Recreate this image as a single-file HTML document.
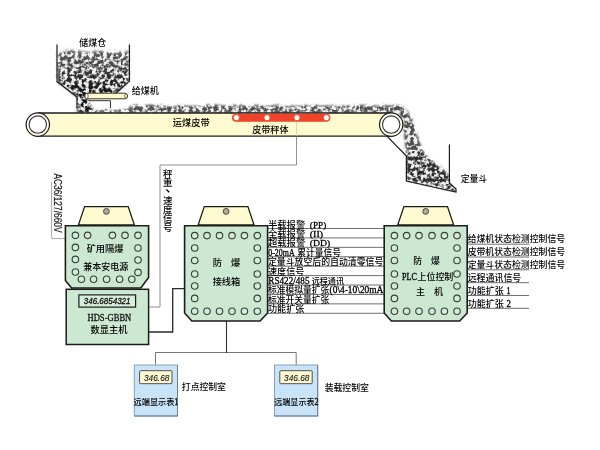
<!DOCTYPE html>
<html lang="zh">
<head>
<meta charset="utf-8">
<title>皮带秤定量装载系统示意图</title>
<style>
html,body{margin:0;padding:0;background:#fff}
body{width:600px;height:450px;overflow:hidden;position:relative;font-family:"Liberation Sans",sans-serif}
svg{position:absolute;left:0;top:0;display:block}
.t{position:absolute;color:transparent;white-space:nowrap;font-family:"Liberation Serif",serif;user-select:none;overflow:hidden;max-width:140px;max-height:70px}
</style>
</head>
<body>
<svg width="600" height="450" viewBox="0 0 600 450" aria-hidden="true">
<defs>
<filter id="coal" x="0" y="0" width="100%" height="100%" color-interpolation-filters="sRGB"><feTurbulence type="fractalNoise" baseFrequency="0.28" numOctaves="2" seed="11" result="n"/><feColorMatrix in="n" type="matrix" values="4.4 1.5 0 0 -2.52  4.4 1.5 0 0 -2.52  4.4 1.5 0 0 -2.52  0 0 0 0 1"/><feComponentTransfer><feFuncR type="linear" slope="0.86" intercept="0.07"/><feFuncG type="linear" slope="0.86" intercept="0.07"/><feFuncB type="linear" slope="0.86" intercept="0.07"/></feComponentTransfer></filter>
<linearGradient id="gh" gradientUnits="userSpaceOnUse" x1="0" y1="50" x2="0" y2="92"><stop offset="0" stop-color="#a8a8a8"/><stop offset="1" stop-color="#fff"/></linearGradient>
<filter id="b2" x="-10%" y="-10%" width="120%" height="120%"><feGaussianBlur stdDeviation="1.8"/></filter>
<filter id="b1" x="-10%" y="-10%" width="120%" height="120%"><feGaussianBlur stdDeviation="0.9"/></filter>
<mask id="cHop" maskUnits="userSpaceOnUse" x="40" y="30" width="110" height="100"><polygon points="57.6,50.94 60.12,51.98 62.43,51.61 65.55,50.09 69.07,50.02 72.38,50.12 74.74,51.26 79.15,50.3 81.88,51.91 86.63,51.75 89.84,53.02 92.07,52.65 94.98,50.36 97.41,50.89 101.8,50.48 105.53,51.94 108.67,51.65 110.95,50.09 113.62,52.08 116.92,50.91 120.66,51.35 123.6,52.44 127.66,50.68 129,51.58 129,81 116,93 112,94 88.5,94 88.5,104 92,108 96,113 77.4,113 77.4,97 57.6,81.5" fill="url(#gh)" filter="url(#b2)"/></mask>
<mask id="cBelt" maskUnits="userSpaceOnUse" x="80" y="90" width="400" height="120"><polygon points="92,113 96,110.5 100,110.5 103.55,109.09 107.7,108.68 110.51,110.22 112.67,109.57 114.57,110 118.2,109.78 122.1,109.15 125.57,109.83 128,109.49 130,106.08 133.52,105.35 136.47,104.52 139.49,105.69 143.11,106.04 145.26,105.17 148.21,104.45 150.73,104.74 152.54,104.52 155.7,104.66 157.77,105.18 161.14,104.56 163.64,105.5 167.04,106.04 170.39,104.96 172.82,105.12 176.22,106.32 178.09,104.75 180.13,104.87 182.7,105.58 184.81,104.41 187.24,105.14 189.98,106.31 192.97,105.43 195.82,105.75 197.49,106.2 200.67,106.15 203.89,105.18 206.28,104.61 209.16,104.52 210.86,104.82 212.76,105.08 214.43,104.4 216.3,104.6 218.62,104.45 222,105.63 223.87,104.9 226.15,105.13 227.96,106.1 231.59,105.33 234.16,104.57 235.93,105.09 238.04,106.06 239.94,104.45 243.47,105.46 245.34,105.49 246.95,105.46 250.55,106.13 253.56,104.92 255.88,104.73 259.05,105.47 262.23,105.06 264.25,106.02 267.86,106.11 271.1,106.04 274.19,104.85 276.83,105.11 278.45,104.46 280.59,104.92 283.59,106.31 286.08,106.27 289.7,106.31 292.02,104.84 294.05,104.79 296.03,105.65 299.47,106.08 302.02,105.71 305.25,104.57 308.18,106.22 311.37,105.9 313.92,104.76 317.12,105.07 320.35,106.34 322.73,105.2 326.26,105.85 328.18,104.65 330.05,106.21 333.29,104.69 336.57,106.36 339.49,105.1 342.2,104.66 343.79,106.34 346.7,105.45 350.2,105.27 353.57,106.05 355.57,104.9 357.74,104.88 360.52,104.92 362.95,104.66 366.4,105.11 368.92,105.57 372.36,105.24 375.83,105.4 378.49,105.45 380.09,105.28 382.03,104.41 385.26,104.74 387.8,105.85 390.52,105.05 393.16,105.51 396,104.61 401,105.5 405,108 409,113 413,121 416,130 419,140 423,151 428,157.5 436,163 443,169 449,175.5 449,183 455.5,189 455.5,191.5 406.9,180.6 406.9,156 405.6,148 404.4,138 403.6,129 403.2,124 402,118 399,114.5 394,113" fill="#fff" filter="url(#b1)"/></mask>
<mask id="cPile" maskUnits="userSpaceOnUse" x="380" y="120" width="100" height="90"><polygon points="407.4,153 414,150 421,152 427,158 436,164.5 443,170.5 448.5,176.5 448.5,183.2 455,189 455,191 407.4,180.2" fill="#fff" filter="url(#b1)"/></mask>
</defs>
<rect width="600" height="450" fill="#fff"/>
<g mask="url(#cHop)"><rect x="50" y="40" width="90" height="80" filter="url(#coal)"/></g>
<g mask="url(#cBelt)" opacity="0.74"><rect x="85" y="98" width="380" height="100" filter="url(#coal)"/></g>
<g mask="url(#cPile)" opacity="0.55"><rect x="85" y="98" width="380" height="100" filter="url(#coal)"/></g>
<rect x="37.8" y="113" width="353.4" height="23.2" fill="#fffbd0"/>
<path d="M37.8 113H391.2M37.8 136.2H391.2" stroke="#1c1c1c" stroke-width="1.3" fill="none"/>
<circle cx="37.8" cy="124.6" r="11.7" fill="#fffef0" stroke="#1c1c1c" stroke-width="1.2"/>
<circle cx="37.8" cy="124.6" r="8.7" fill="#fff" stroke="#333" stroke-width="1.1"/>
<circle cx="391.2" cy="124.6" r="11.7" fill="#fffef0" stroke="#1c1c1c" stroke-width="1.2"/>
<circle cx="391.2" cy="124.6" r="8.7" fill="#fff" stroke="#333" stroke-width="1.1"/>
<rect x="232" y="113.7" width="98.4" height="8.1" rx="4" fill="#f0432a"/>
<circle cx="236.4" cy="117.7" r="3.1" fill="#fff" stroke="#ee4a2c" stroke-width="1"/>
<circle cx="267" cy="117.7" r="3.1" fill="#fff" stroke="#ee4a2c" stroke-width="1"/>
<circle cx="297" cy="117.7" r="3.1" fill="#fff" stroke="#ee4a2c" stroke-width="1"/>
<circle cx="326.4" cy="117.7" r="3.1" fill="#fff" stroke="#ee4a2c" stroke-width="1"/>
<path d="M57 44.6V81.6L77 97V108M129.4 44.6V81L116 93" stroke="#1c1c1c" stroke-width="1.2" fill="none"/>
<path d="M88.5 100.7H110.5V108" stroke="#333" stroke-width="1" fill="none"/>
<rect x="84.6" y="93.2" width="43" height="5.6" rx="2.8" fill="#fffbd0" stroke="#3a3420" stroke-width="1"/>
<ellipse cx="86.6" cy="96" rx="1.6" ry="2.6" fill="#fffef0" stroke="#3a3420" stroke-width="0.7"/>
<path d="M125.4 93.6Q124 96 125.4 98.4" stroke="#3a3420" stroke-width="0.7" fill="none"/>
<path d="M386.5 135.6L406.4 156V181L456 192V189L449.4 183V144.4" stroke="#1c1c1c" stroke-width="1.2" fill="none"/>
<path d="M296.5 122V136" stroke="#d9d2a4" stroke-width="0.9" fill="none"/>
<path d="M296.5 136.8V165H160V307H149" stroke="#858585" stroke-width="0.9" fill="none"/>
<path d="M51.6 182V238.6H65" stroke="#a8a8a8" stroke-width="1" fill="none"/>
<path d="M149 332H172.7V288.6H184.6" stroke="#2a2a2a" stroke-width="1.3" fill="none"/>
<path d="M155.5 365V352.5H296.2V365" stroke="#777" stroke-width="1" fill="none"/>
<path d="M226.5 321V353" stroke="#333" stroke-width="1.1" fill="none"/>
<path d="M267.5 228.5H384.5M267.5 237.92H384.5M267.5 247.34H384.5M267.5 256.76H384.5M267.5 266.18H384.5M267.5 275.6H384.5M267.5 285.02H384.5M267.5 294.44H384.5M267.5 303.86H384.5M267.5 313.28H384.5" stroke="#6e6e6e" stroke-width="1" fill="none"/>
<path d="M467.5 244.2H529M467.5 257.02H529M467.5 269.84H529M467.5 282.66H529M467.5 295.48H529M467.5 308.3H529" stroke="#6e6e6e" stroke-width="1" fill="none"/>
<polygon points="84.6,206.6 128.2,206.6 134.4,225 78.4,225" fill="#fffbd0" stroke="#1c1c1c" stroke-width="1.3" stroke-linejoin="miter"/>
<circle cx="106.4" cy="211.4" r="2.9" fill="#b0ac98" stroke="#4c4c44" stroke-width="1"/>
<polygon points="65.4,225.8 148.6,225.8 148.6,277.5 140.8,288 71.6,288 65.4,280.5" fill="#cde8d2" stroke="#1c1c1c" stroke-width="1.6"/>
<g fill="#d3ecd8" stroke="#36413a" stroke-width="1.15"><circle cx="75.4" cy="235.3" r="3.25"/><circle cx="87.6" cy="235.3" r="3.25"/><circle cx="112.4" cy="235.3" r="3.25"/><circle cx="125" cy="235.3" r="3.25"/><circle cx="138" cy="235.3" r="3.25"/><circle cx="75.4" cy="247.4" r="3.25"/><circle cx="75.4" cy="259.4" r="3.25"/><circle cx="75.4" cy="272" r="3.25"/><circle cx="138" cy="248" r="3.25"/><circle cx="138" cy="260" r="3.25"/><circle cx="138" cy="272.4" r="3.25"/><circle cx="81.4" cy="279.2" r="3.25"/><circle cx="93.6" cy="279.2" r="3.25"/><circle cx="106.6" cy="279.2" r="3.25"/><circle cx="119.6" cy="279.2" r="3.25"/><circle cx="131.8" cy="279.2" r="3.25"/></g>
<rect x="66.2" y="289.3" width="82.4" height="55.2" fill="#cde8d2" stroke="#1c1c1c" stroke-width="1.5"/>
<rect x="78.9" y="294.9" width="56.7" height="12.2" fill="#d6eedb" stroke="#1c1c1c" stroke-width="1.2"/>
<polygon points="204.3,206.6 247.9,206.6 254.1,225 198.1,225" fill="#fffbd0" stroke="#1c1c1c" stroke-width="1.3" stroke-linejoin="miter"/>
<circle cx="226.1" cy="211.4" r="2.9" fill="#b0ac98" stroke="#4c4c44" stroke-width="1"/>
<polygon points="184.6,225.8 267.6,225.8 267.6,313 260.1,321 191.8,321 184.6,313" fill="#cde8d2" stroke="#1c1c1c" stroke-width="1.6"/>
<g fill="#d3ecd8" stroke="#36413a" stroke-width="1.15"><circle cx="194.7" cy="235.6" r="3.25"/><circle cx="207" cy="235.6" r="3.25"/><circle cx="219.5" cy="235.6" r="3.25"/><circle cx="232" cy="235.6" r="3.25"/><circle cx="244.4" cy="235.6" r="3.25"/><circle cx="257.3" cy="235.6" r="3.25"/><circle cx="194.7" cy="311.2" r="3.25"/><circle cx="207" cy="311.2" r="3.25"/><circle cx="219.5" cy="311.2" r="3.25"/><circle cx="232" cy="311.2" r="3.25"/><circle cx="244.4" cy="311.2" r="3.25"/><circle cx="257.3" cy="311.2" r="3.25"/><circle cx="194.7" cy="248" r="3.25"/><circle cx="257.3" cy="248" r="3.25"/><circle cx="194.7" cy="260.5" r="3.25"/><circle cx="257.3" cy="260.5" r="3.25"/><circle cx="194.7" cy="274" r="3.25"/><circle cx="257.3" cy="274" r="3.25"/><circle cx="194.7" cy="286" r="3.25"/><circle cx="257.3" cy="286" r="3.25"/><circle cx="194.7" cy="298.4" r="3.25"/><circle cx="257.3" cy="298.4" r="3.25"/></g>
<polygon points="403.9,206.6 447.5,206.6 453.7,225 397.7,225" fill="#fffbd0" stroke="#1c1c1c" stroke-width="1.3" stroke-linejoin="miter"/>
<circle cx="425.7" cy="211.4" r="2.9" fill="#b0ac98" stroke="#4c4c44" stroke-width="1"/>
<polygon points="384.2,225.8 467.2,225.8 467.2,313 459.7,321 391.4,321 384.2,313" fill="#cde8d2" stroke="#1c1c1c" stroke-width="1.6"/>
<g fill="#d3ecd8" stroke="#36413a" stroke-width="1.15"><circle cx="394.4" cy="235.6" r="3.25"/><circle cx="406.6" cy="235.6" r="3.25"/><circle cx="419" cy="235.6" r="3.25"/><circle cx="432" cy="235.6" r="3.25"/><circle cx="444.4" cy="235.6" r="3.25"/><circle cx="457" cy="235.6" r="3.25"/><circle cx="394.4" cy="311.2" r="3.25"/><circle cx="406.6" cy="311.2" r="3.25"/><circle cx="419" cy="311.2" r="3.25"/><circle cx="432" cy="311.2" r="3.25"/><circle cx="444.4" cy="311.2" r="3.25"/><circle cx="457" cy="311.2" r="3.25"/><circle cx="394.4" cy="248" r="3.25"/><circle cx="457" cy="248" r="3.25"/><circle cx="394.4" cy="260.5" r="3.25"/><circle cx="457" cy="260.5" r="3.25"/><circle cx="394.4" cy="274" r="3.25"/><circle cx="457" cy="274" r="3.25"/><circle cx="394.4" cy="286" r="3.25"/><circle cx="457" cy="286" r="3.25"/><circle cx="394.4" cy="298.4" r="3.25"/><circle cx="457" cy="298.4" r="3.25"/></g>
<rect x="134.3" y="365" width="43.2" height="51" fill="#c9e4f8" stroke="#8a9fb4" stroke-width="1"/>
<path d="M177.5 365.5V416H134.3" stroke="#6f7f8f" stroke-width="1" fill="none"/>
<rect x="139.6" y="370.7" width="32.4" height="13" rx="0.8" fill="#fffad2" stroke="#4f4f4f" stroke-width="1"/>
<rect x="274.5" y="365" width="43.2" height="51" fill="#c9e4f8" stroke="#8a9fb4" stroke-width="1"/>
<path d="M317.7 365.5V416H274.5" stroke="#6f7f8f" stroke-width="1" fill="none"/>
<rect x="279.8" y="370.7" width="32.4" height="13" rx="0.8" fill="#fffad2" stroke="#4f4f4f" stroke-width="1"/>
<g id="labels" opacity="0.999" font-family="'Liberation Sans', 'Noto Sans CJK SC', sans-serif" font-weight="500" fill="#000">
<text x="79.34" y="45.84" font-size="8.94">储煤仓</text>
<text x="131.64" y="94.45" font-size="9.01">给煤机</text>
<text x="172.83" y="125.55" font-size="9.21">运煤皮带</text>
<text x="252.14" y="133.45" font-size="9.11">皮带秤体</text>
<text x="460.64" y="181.66" font-size="8.9">定量斗</text>
<text x="86.63" y="251.66" font-size="9.18">矿用隔爆</text>
<text x="83.24" y="269.66" font-size="9.02">兼本安电源</text>
<text x="90.53" y="333.11" font-size="9.26">数显主机</text>
<text x="212.63 231.12" y="265.66" font-size="9.25">防爆</text>
<text x="212.63" y="284.66" font-size="9.25">接线箱</text>
<text x="413.14 430.95" y="264.15" font-size="8.9">防爆</text>
<text x="402" y="279.9" font-family="Liberation Serif, serif" font-weight="normal" font-size="9.6" textLength="14.8" lengthAdjust="spacingAndGlyphs" fill="#000" stroke="#000" stroke-width="0.3">PLC</text>
<text x="417.44" y="279.97" font-size="8.98">上位控制</text>
<text x="415.94 434.09" y="295.35" font-size="9.08">主机</text>
<text x="162.92" y="176.75" font-size="9.46">秤</text>
<text x="162.92" y="185.75" font-size="9.46">重</text>
<text x="165.3" y="190.64" font-size="12.87">、</text>
<text x="162.92" y="204.15" font-size="9.46">速</text>
<text x="162.92" y="212.95" font-size="9.46">度</text>
<text x="162.92" y="221.75" font-size="9.46">信</text>
<text x="162.92" y="230.75" font-size="9.46">号</text>
<text transform="translate(53.6 173.4) rotate(90)" font-family="Liberation Sans, sans-serif" font-weight="normal" font-size="10.4" textLength="59.2" lengthAdjust="spacingAndGlyphs" fill="#111" stroke="#111" stroke-width="0.2">AC36/127/660V</text>
<text x="83.8" y="304.2" font-family="Liberation Sans, sans-serif" font-weight="normal" font-size="8.4" textLength="46.7" lengthAdjust="spacingAndGlyphs" fill="#111" font-style="italic" stroke="#111" stroke-width="0.3">346.6854321</text>
<text x="87.5" y="320.6" font-family="Liberation Serif, serif" font-weight="normal" font-size="10" textLength="43.8" lengthAdjust="spacingAndGlyphs" fill="#111" stroke="#111" stroke-width="0.3">HDS-GBBN</text>
<text x="144" y="380.6" font-family="Liberation Sans, sans-serif" font-weight="normal" font-size="9.2" textLength="25.4" lengthAdjust="spacingAndGlyphs" fill="#111" font-style="italic" stroke="#111" stroke-width="0.1">346.68</text>
<text x="284.1" y="380.6" font-family="Liberation Sans, sans-serif" font-weight="normal" font-size="9.2" textLength="25.4" lengthAdjust="spacingAndGlyphs" fill="#111" font-style="italic" stroke="#111" stroke-width="0.1">346.68</text>
<text x="133.57" y="405.35" font-size="8.19">远端显示表</text>
<text x="174.6" y="405.3" font-family="Liberation Serif, serif" font-weight="normal" font-size="9.4" textLength="3.6" lengthAdjust="spacingAndGlyphs" fill="#000" stroke="#000" stroke-width="0.3">1</text>
<text x="274.18" y="405.35" font-size="8.11">远端显示表</text>
<text x="314.6" y="405.3" font-family="Liberation Serif, serif" font-weight="normal" font-size="9.4" textLength="4" lengthAdjust="spacingAndGlyphs" fill="#000" stroke="#000" stroke-width="0.3">2</text>
<text x="181.85" y="389.75" font-size="8.8">打点控制室</text>
<text x="324.65" y="390.55" font-size="8.86">装载控制室</text>
<text x="267.93" y="227.55" font-size="9.36">半载报警</text>
<text x="309.8" y="227.5" font-family="Liberation Serif, serif" font-weight="normal" font-size="9" textLength="16.5" lengthAdjust="spacingAndGlyphs" fill="#000" stroke="#000" stroke-width="0.3">(PP)</text>
<text x="267.93" y="236.97" font-size="9.36">全载报警</text>
<text x="309.8" y="236.92" font-family="Liberation Serif, serif" font-weight="normal" font-size="9" textLength="13.2" lengthAdjust="spacingAndGlyphs" fill="#000" stroke="#000" stroke-width="0.3">(II)</text>
<text x="267.93" y="246.39" font-size="9.36">超载报警</text>
<text x="309.8" y="246.34" font-family="Liberation Serif, serif" font-weight="normal" font-size="9" textLength="20.5" lengthAdjust="spacingAndGlyphs" fill="#000" stroke="#000" stroke-width="0.3">(DD)</text>
<text x="268.3" y="255.76" font-family="Liberation Serif, serif" font-weight="normal" font-size="9.6" textLength="26.3" lengthAdjust="spacingAndGlyphs" fill="#000" stroke="#000" stroke-width="0.3">0-20mA</text>
<text x="297.15" y="255.81" font-size="8.76">累计量信号</text>
<text x="267.94" y="265.23" font-size="8.89">定量斗放空后的自动清零信号</text>
<text x="267.94" y="274.65" font-size="9.11">速度信号</text>
<text x="268.3" y="284.02" font-family="Liberation Serif, serif" font-weight="normal" font-size="9.6" textLength="41.2" lengthAdjust="spacingAndGlyphs" fill="#000" stroke="#000" stroke-width="0.3">RS422/485</text>
<text x="311.68" y="284.07" font-size="8.11">远程通讯</text>
<text x="267.95" y="293.49" font-size="8.77">标准模拟量扩张</text>
<text x="329.6" y="293.44" font-family="Liberation Serif, serif" font-weight="normal" font-size="9.6" textLength="53.8" lengthAdjust="spacingAndGlyphs" fill="#000" stroke="#000" stroke-width="0.3">(0\4-10\20mA</text>
<text x="267.95" y="302.91" font-size="8.77">标准开关量扩张</text>
<text x="267.94" y="312.33" font-size="9.11">功能扩张</text>
<text x="467.64" y="242.46" font-size="8.88">给煤机状态检测控制信号</text>
<text x="467.64" y="255.28" font-size="8.88">皮带机状态检测控制信号</text>
<text x="467.64" y="268.1" font-size="8.88">定量斗状态检测控制信号</text>
<text x="467.64" y="280.92" font-size="8.95">远程通讯信号</text>
<text x="467.64" y="293.74" font-size="9.01">功能扩张</text>
<text x="506.5" y="293.68" font-family="Liberation Serif, serif" font-weight="normal" font-size="9.6" textLength="4" lengthAdjust="spacingAndGlyphs" fill="#000" stroke="#000" stroke-width="0.3">1</text>
<text x="467.64" y="306.56" font-size="9.01">功能扩张</text>
<text x="506.5" y="306.5" font-family="Liberation Serif, serif" font-weight="normal" font-size="9.6" textLength="4.5" lengthAdjust="spacingAndGlyphs" fill="#000" stroke="#000" stroke-width="0.3">2</text>
</g>
</svg>
<div class="t" style="left:79.7px;top:38px;font-size:8.7px;line-height:8.7px;">储煤仓</div>
<div class="t" style="left:132px;top:86.7px;font-size:8.6px;line-height:8.6px;">给煤机</div>
<div class="t" style="left:173.2px;top:117.8px;font-size:8.6px;line-height:8.6px;">运煤皮带</div>
<div class="t" style="left:252.5px;top:125.7px;font-size:8.6px;line-height:8.6px;">皮带秤体</div>
<div class="t" style="left:461px;top:174px;font-size:8.5px;line-height:8.5px;">定量斗</div>
<div class="t" style="left:87px;top:244px;font-size:8.5px;line-height:8.5px;">矿用隔爆</div>
<div class="t" style="left:83.6px;top:262px;font-size:8.5px;line-height:8.5px;">兼本安电源</div>
<div class="t" style="left:90.9px;top:325px;font-size:9px;line-height:9px;">数显主机</div>
<div class="t" style="left:213px;top:258px;font-size:8.5px;line-height:8.5px;">防　爆</div>
<div class="t" style="left:213px;top:277px;font-size:8.5px;line-height:8.5px;">接线箱</div>
<div class="t" style="left:413.5px;top:256.4px;font-size:8.6px;line-height:8.6px;">防　爆</div>
<div class="t" style="left:402px;top:272.4px;font-size:8.4px;line-height:8.4px;">PLC上位控制</div>
<div class="t" style="left:416.3px;top:287.6px;font-size:8.6px;line-height:8.6px;">主　机</div>
<div class="t" style="left:163px;top:169px;font-size:9px;line-height:9px;writing-mode:vertical-rl;">秤重、速度信号</div>
<div class="t" style="left:133.9px;top:397.6px;font-size:8.6px;line-height:8.6px;">远端显示表1</div>
<div class="t" style="left:274.5px;top:397.6px;font-size:8.6px;line-height:8.6px;">远端显示表2</div>
<div class="t" style="left:182.2px;top:382px;font-size:8.6px;line-height:8.6px;">打点控制室</div>
<div class="t" style="left:325px;top:382.8px;font-size:8.6px;line-height:8.6px;">装载控制室</div>
<div class="t" style="left:268.3px;top:219.8px;font-size:8.6px;line-height:8.6px;">半载报警 (PP)</div>
<div class="t" style="left:268.3px;top:229.22px;font-size:8.6px;line-height:8.6px;">全载报警 (II)</div>
<div class="t" style="left:268.3px;top:238.64px;font-size:8.6px;line-height:8.6px;">超载报警 (DD)</div>
<div class="t" style="left:268.3px;top:248.06px;font-size:8.6px;line-height:8.6px;">0-20mA 累计量信号</div>
<div class="t" style="left:268.3px;top:257.48px;font-size:8.6px;line-height:8.6px;">定量斗放空后的自动清零信号</div>
<div class="t" style="left:268.3px;top:266.9px;font-size:8.6px;line-height:8.6px;">速度信号</div>
<div class="t" style="left:268.3px;top:276.32px;font-size:8.6px;line-height:8.6px;">RS422/485 远程通讯</div>
<div class="t" style="left:268.3px;top:285.74px;font-size:8.6px;line-height:8.6px;">标准模拟量扩张(0\4-10\20mA</div>
<div class="t" style="left:268.3px;top:295.16px;font-size:8.6px;line-height:8.6px;">标准开关量扩张</div>
<div class="t" style="left:268.3px;top:304.58px;font-size:8.6px;line-height:8.6px;">功能扩张</div>
<div class="t" style="left:468px;top:234.8px;font-size:8.5px;line-height:8.5px;">给煤机状态检测控制信号</div>
<div class="t" style="left:468px;top:247.62px;font-size:8.5px;line-height:8.5px;">皮带机状态检测控制信号</div>
<div class="t" style="left:468px;top:260.44px;font-size:8.5px;line-height:8.5px;">定量斗状态检测控制信号</div>
<div class="t" style="left:468px;top:273.26px;font-size:8.5px;line-height:8.5px;">远程通讯信号</div>
<div class="t" style="left:468px;top:286.08px;font-size:8.5px;line-height:8.5px;">功能扩张 1</div>
<div class="t" style="left:468px;top:298.9px;font-size:8.5px;line-height:8.5px;">功能扩张 2</div>
</body>
</html>
